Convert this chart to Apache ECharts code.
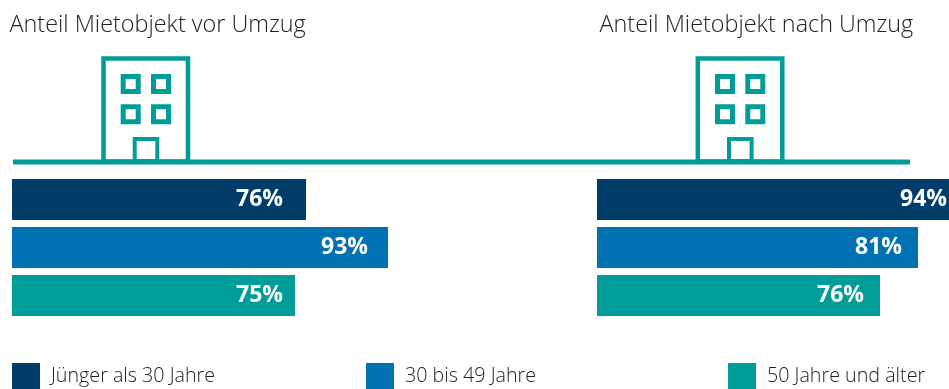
<!DOCTYPE html>
<html><head><meta charset="utf-8">
<style>html,body{margin:0;padding:0;background:#fff}#c{width:949px;height:389px}</style>
<script src="https://cdn.jsdelivr.net/npm/echarts@6/dist/echarts.min.js"></script>
</head><body><div id="c"></div>
<script>
const ageGroups = ['Jünger als 30 Jahre', '30 bis 49 Jahre', '50 Jahre und älter'];
const panelTitles = ['Anteil Mietobjekt vor Umzug', 'Anteil Mietobjekt nach Umzug'];
// Percentages as printed on the bars
const printedBefore = [76, 93, 75];
const printedAfter = [94, 81, 76];
// Bar lengths as drawn in the picture (the source's bars are not strictly proportional to their labels)
const drawnBefore = [73.5, 94, 70.75];
const drawnAfter = [88, 80.25, 70.75];
const colors = ['#003D6B', '#0072B1', '#009D98'];

const labelGapBefore = [23, 20, 12];
const labelGapAfter = [2, 16, 16];
const FONT = '"Open Sans", sans-serif';
const TEAL = colors[2];

function panelSeries(drawn, printed, gaps, axisIndex) {
  return ageGroups.map((name, i) => ({
    name, type: 'bar', xAxisIndex: axisIndex, yAxisIndex: axisIndex,
    stack: 'p' + axisIndex, barWidth: 41, silent: true,
    itemStyle: { color: colors[i] },
    data: ageGroups.map((_, j) => j === i ? drawn[j] : null),
    label: {
      show: true, position: 'insideRight', distance: gaps[i],
      formatter: () => printed[i] + '%',
      color: '#fff', fontFamily: FONT, fontWeight: 700, fontSize: 23
    }
  }));
}
function building(x) {
  const frame = { stroke: TEAL, lineWidth: 4.5, fill: 'none' };
  const win = { stroke: TEAL, lineWidth: 5, fill: 'none' };
  const door = { stroke: TEAL, lineWidth: 4, fill: 'none' };
  const box = (x0, y0, w, h, style) => ({ type: 'rect', shape: { x: x0, y: y0, width: w, height: h }, style });
  return { type: 'group', x, y: 0, children: [
    box(103.5, 58.5, 84.5, 103, frame),
    box(123.2, 76.5, 15, 15, win), box(153.5, 76.5, 15, 15, win),
    box(123.2, 106.8, 15, 15, win), box(153.5, 106.8, 15, 15, win),
    box(134.7, 139, 22.6, 22, door)
  ]};
}
const legendX = [12, 366, 728];
const chart = echarts.init(document.getElementById('c'));
chart.setOption({
  animation: false,
  title: panelTitles.map((text, i) => ({
    text, left: [9.5, 599.5][i], top: 14, padding: 0,
    textStyle: { fontFamily: FONT, fontWeight: 300, fontSize: 23.4, color: '#222' }
  })),
  legend: ageGroups.map((name, i) => ({
    data: [name], left: legendX[i], top: 363, padding: 0,
    itemWidth: 28, itemHeight: 26, selectedMode: false,
    icon: 'rect',
    textStyle: { fontFamily: FONT, fontWeight: 300, fontSize: 19.7, color: '#222', padding: [8, 0, 0, 6] }
  })),
  grid: [
    { left: 12, top: 175.5, width: 376, height: 144 },
    { left: 597, top: 175.5, width: 352, height: 144 }
  ],
  xAxis: [
    { gridIndex: 0, type: 'value', min: 0, max: 94, show: false },
    { gridIndex: 1, type: 'value', min: 0, max: 88, show: false }
  ],
  yAxis: [0, 1].map(g => ({ gridIndex: g, type: 'category', inverse: true, data: ageGroups, show: false })),
  series: [
    ...panelSeries(drawnBefore, printedBefore, labelGapBefore, 0),
    ...panelSeries(drawnAfter, printedAfter, labelGapAfter, 1)
  ],
  graphic: [
    { type: 'rect', shape: { x: 13, y: 159.5, width: 897, height: 5 }, style: { fill: TEAL } },
    building(0), building(594.3)
  ]
});
</script></body></html>
